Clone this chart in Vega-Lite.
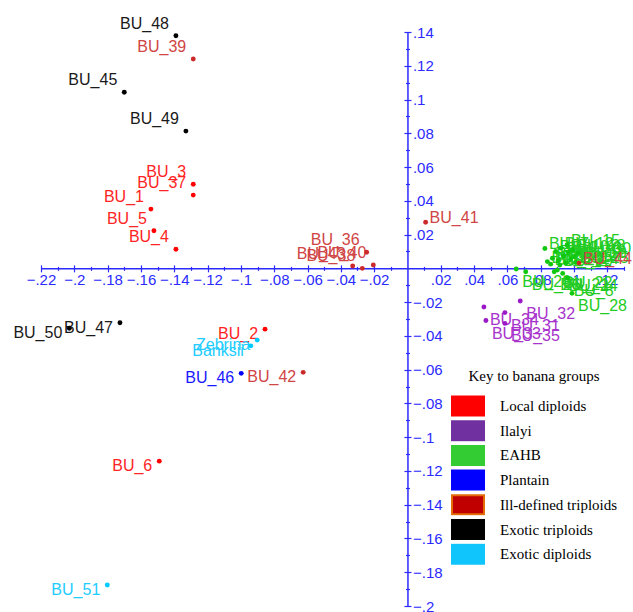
{
  "$schema": "https://vega.github.io/schema/vega-lite/v6.json",
  "width": 583,
  "height": 574,
  "autosize": {"type": "none"},
  "padding": {"left": 41, "top": 32, "right": 9, "bottom": 6},
  "config": {"view": {"stroke": null}},
  "datasets": {
    "pts": [
      {"id": "BU_1", "group": "Local diploids", "x": -0.1540, "y": 0.0351},
      {"id": "BU_2", "group": "Local diploids", "x": -0.0855, "y": -0.0360},
      {"id": "BU_3", "group": "Local diploids", "x": -0.1286, "y": 0.0498},
      {"id": "BU_4", "group": "Local diploids", "x": -0.1390, "y": 0.0113},
      {"id": "BU_5", "group": "Local diploids", "x": -0.1522, "y": 0.0223},
      {"id": "BU_6", "group": "Local diploids", "x": -0.1490, "y": -0.1142},
      {"id": "BU_37", "group": "Local diploids", "x": -0.1286, "y": 0.0434},
      {"id": "BU_31", "group": "Ilalyi", "x": 0.0585, "y": -0.0262},
      {"id": "BU_32", "group": "Ilalyi", "x": 0.0677, "y": -0.0193},
      {"id": "BU_33", "group": "Ilalyi", "x": 0.0471, "y": -0.0309},
      {"id": "BU_34", "group": "Ilalyi", "x": 0.0459, "y": -0.0229},
      {"id": "BU_35", "group": "Ilalyi", "x": 0.0585, "y": -0.0326},
      {"id": "BU_7", "group": "EAHB", "x": 0.0825, "y": 0.0118},
      {"id": "BU_8", "group": "EAHB", "x": 0.0962, "y": -0.0059},
      {"id": "BU_9", "group": "EAHB", "x": 0.0870, "y": 0.0060},
      {"id": "BU_10", "group": "EAHB", "x": 0.0890, "y": 0.0100},
      {"id": "BU_11", "group": "EAHB", "x": 0.0905, "y": 0.0045},
      {"id": "BU_12", "group": "EAHB", "x": 0.0920, "y": 0.0120},
      {"id": "BU_13", "group": "EAHB", "x": 0.0935, "y": 0.0075},
      {"id": "BU_14", "group": "EAHB", "x": 0.0950, "y": 0.0030},
      {"id": "BU_15", "group": "EAHB", "x": 0.0958, "y": 0.0138},
      {"id": "BU_16", "group": "EAHB", "x": 0.0965, "y": 0.0095},
      {"id": "BU_17", "group": "EAHB", "x": 0.0980, "y": 0.0055},
      {"id": "BU_18", "group": "EAHB", "x": 0.0990, "y": 0.0110},
      {"id": "BU_19", "group": "EAHB", "x": 0.1000, "y": 0.0070},
      {"id": "BU_20", "group": "EAHB", "x": 0.0653, "y": -0.0004},
      {"id": "BU_21", "group": "EAHB", "x": 0.0881, "y": -0.0020},
      {"id": "BU_22", "group": "EAHB", "x": 0.0900, "y": -0.0010},
      {"id": "BU_23", "group": "EAHB", "x": 0.0860, "y": 0.0025},
      {"id": "BU_24", "group": "EAHB", "x": 0.0932, "y": -0.0030},
      {"id": "BU_25", "group": "EAHB", "x": 0.1010, "y": 0.0035},
      {"id": "BU_26", "group": "EAHB", "x": 0.0710, "y": -0.0020},
      {"id": "BU_27", "group": "EAHB", "x": 0.0840, "y": 0.0040},
      {"id": "BU_28", "group": "EAHB", "x": 0.0988, "y": -0.0148},
      {"id": "BU_29", "group": "EAHB", "x": 0.0915, "y": 0.0020},
      {"id": "BU_30", "group": "EAHB", "x": 0.1025, "y": 0.0090},
      {"id": "BU_46", "group": "Plantain", "x": -0.0998, "y": -0.0622},
      {"id": "BU_36", "group": "Ill-defined triploids", "x": -0.0245, "y": 0.0095},
      {"id": "BU_38", "group": "Ill-defined triploids", "x": -0.0271, "y": 0.0},
      {"id": "BU_39", "group": "Ill-defined triploids", "x": -0.1286, "y": 0.1240},
      {"id": "BU_40", "group": "Ill-defined triploids", "x": -0.0205, "y": 0.0020},
      {"id": "BU_41", "group": "Ill-defined triploids", "x": 0.0109, "y": 0.0273},
      {"id": "BU_42", "group": "Ill-defined triploids", "x": -0.0626, "y": -0.0616},
      {"id": "BU_43", "group": "Ill-defined triploids", "x": -0.0329, "y": 0.0014},
      {"id": "BU_44", "group": "Ill-defined triploids", "x": 0.1030, "y": 0.0031},
      {"id": "BU_45", "group": "Exotic triploids", "x": -0.1700, "y": 0.1043},
      {"id": "BU_47", "group": "Exotic triploids", "x": -0.1726, "y": -0.0322},
      {"id": "BU_48", "group": "Exotic triploids", "x": -0.1390, "y": 0.1378},
      {"id": "BU_49", "group": "Exotic triploids", "x": -0.1330, "y": 0.0813},
      {"id": "BU_50", "group": "Exotic triploids", "x": -0.2030, "y": -0.0355},
      {"id": "BU_51", "group": "Exotic diploids", "x": -0.1802, "y": -0.1876},
      {"id": "Zebrina", "group": "Exotic diploids", "x": -0.0902, "y": -0.0425},
      {"id": "Banksii", "group": "Exotic diploids", "x": -0.0940, "y": -0.0459}
    ],
    "groups": [
      {"group": "Local diploids"},
      {"group": "Ilalyi"},
      {"group": "EAHB"},
      {"group": "Plantain"},
      {"group": "Ill-defined triploids"},
      {"group": "Exotic triploids"},
      {"group": "Exotic diploids"}
    ]
  },
  "layer": [
    {
      "data": {"name": "pts"},
      "transform": [{"filter": "datum.x < 0 && datum.y >= 0"}],
      "mark": {"type": "text", "align": "right", "baseline": "alphabetic", "dx": -7, "dy": -7, "font": "Liberation Sans", "fontSize": 16},
      "encoding": {
        "x": {"field": "x", "type": "quantitative", "scale": {"domain": [-0.22, 0.13], "nice": false, "zero": false},
          "axis": {"orient": "bottom", "offset": {"expr": "scale('y', 0) - height - 3.5"}, "values": [-0.22, -0.2, -0.18, -0.16, -0.14, -0.12, -0.1, -0.08, -0.06, -0.04, -0.02, 0.02, 0.04, 0.06, 0.08, 0.1, 0.12], "ticks": true, "tickSize": 7, "tickWidth": 1.2, "tickColor": "#2b2bff", "labels": false, "domain": false, "grid": false, "title": null}},
        "y": {"field": "y", "type": "quantitative", "scale": {"domain": [-0.2, 0.14], "nice": false, "zero": false},
          "axis": {"orient": "right", "offset": {"expr": "scale('x', 0) - width - 3.5"}, "values": [-0.2, -0.18, -0.16, -0.14, -0.12, -0.1, -0.08, -0.06, -0.04, -0.02, 0.02, 0.04, 0.06, 0.08, 0.1, 0.12, 0.14], "ticks": true, "tickSize": 7, "tickWidth": 1.2, "tickColor": "#2b2bff", "labels": false, "domain": false, "grid": false, "title": null}},
        "text": {"field": "id"},
        "color": {"field": "group", "type": "nominal", "legend": null,
          "scale": {"domain": ["Local diploids", "Ilalyi", "EAHB", "Plantain", "Ill-defined triploids", "Exotic triploids", "Exotic diploids"], "range": ["#ff2424", "#a833cc", "#22cc22", "#1a1aff", "#d04545", "#1a1a1a", "#22ccff"]}}
      }
    },
    {
      "data": {"name": "pts"},
      "transform": [{"filter": "datum.x < 0 && datum.y < 0"}],
      "mark": {"type": "text", "align": "right", "baseline": "alphabetic", "dx": -7, "dy": 10, "font": "Liberation Sans", "fontSize": 16},
      "encoding": {
        "x": {"field": "x", "type": "quantitative",
          "axis": {"orient": "bottom", "offset": {"expr": "scale('y', 0) - height - 2"}, "values": [-0.21, -0.19, -0.17, -0.15, -0.13, -0.11, -0.09, -0.07, -0.05, -0.03, -0.01, 0.01, 0.03, 0.05, 0.07, 0.09, 0.11, 0.13], "ticks": true, "tickSize": 4, "tickWidth": 1.2, "tickColor": "#2b2bff", "labels": false, "domain": false, "grid": false, "title": null}},
        "y": {"field": "y", "type": "quantitative",
          "axis": {"orient": "right", "offset": {"expr": "scale('x', 0) - width - 2"}, "values": [-0.19, -0.17, -0.15, -0.13, -0.11, -0.09, -0.07, -0.05, -0.03, -0.01, 0.01, 0.03, 0.05, 0.07, 0.09, 0.11, 0.13], "ticks": true, "tickSize": 4, "tickWidth": 1.2, "tickColor": "#2b2bff", "labels": false, "domain": false, "grid": false, "title": null}},
        "text": {"field": "id"},
        "color": {"field": "group", "type": "nominal", "legend": null,
          "scale": {"domain": ["Local diploids", "Ilalyi", "EAHB", "Plantain", "Ill-defined triploids", "Exotic triploids", "Exotic diploids"], "range": ["#ff2424", "#a833cc", "#22cc22", "#1a1aff", "#d04545", "#1a1a1a", "#22ccff"]}}
      }
    },
    {
      "data": {"name": "pts"},
      "transform": [{"filter": "datum.x >= 0 && datum.y >= 0"}],
      "mark": {"type": "text", "align": "left", "baseline": "alphabetic", "dx": 4, "dy": 1, "font": "Liberation Sans", "fontSize": 16},
      "encoding": {
        "x": {"field": "x", "type": "quantitative", "axis": null},
        "y": {"field": "y", "type": "quantitative", "axis": null},
        "text": {"field": "id"},
        "color": {"field": "group", "type": "nominal", "legend": null,
          "scale": {"domain": ["Local diploids", "Ilalyi", "EAHB", "Plantain", "Ill-defined triploids", "Exotic triploids", "Exotic diploids"], "range": ["#ff2424", "#a833cc", "#22cc22", "#1a1aff", "#d04545", "#1a1a1a", "#22ccff"]}}
      }
    },
    {
      "data": {"name": "pts"},
      "transform": [{"filter": "datum.x >= 0 && datum.y < 0"}],
      "mark": {"type": "text", "align": "left", "baseline": "alphabetic", "dx": 6, "dy": 18, "font": "Liberation Sans", "fontSize": 16},
      "encoding": {
        "x": {"field": "x", "type": "quantitative", "axis": null},
        "y": {"field": "y", "type": "quantitative", "axis": null},
        "text": {"field": "id"},
        "color": {"field": "group", "type": "nominal", "legend": null,
          "scale": {"domain": ["Local diploids", "Ilalyi", "EAHB", "Plantain", "Ill-defined triploids", "Exotic triploids", "Exotic diploids"], "range": ["#ff2424", "#a833cc", "#22cc22", "#1a1aff", "#d04545", "#1a1a1a", "#22ccff"]}}
      }
    },
    {
      "data": {"name": "pts"},
      "mark": {"type": "circle", "size": 24, "opacity": 1},
      "encoding": {
        "x": {"field": "x", "type": "quantitative",
          "axis": {"orient": "bottom", "offset": {"expr": "scale('y', 0) - height"}, "values": [-0.22, -0.2, -0.18, -0.16, -0.14, -0.12, -0.1, -0.08, -0.06, -0.04, -0.02, 0.02, 0.04, 0.06, 0.08, 0.1, 0.12], "ticks": false, "domain": true, "domainColor": "#2b2bff", "domainWidth": 1.5, "labelColor": "#2b2bff", "labelFont": "Liberation Sans", "labelFontSize": 15, "labelPadding": 4, "labelOverlap": false, "labelFlush": false, "labelBound": false, "labelExpr": "replace(format(datum.value, '.2~f'), '0.', '.')", "grid": false, "title": null}},
        "y": {"field": "y", "type": "quantitative",
          "axis": {"orient": "right", "offset": {"expr": "scale('x', 0) - width"}, "values": [-0.2, -0.18, -0.16, -0.14, -0.12, -0.1, -0.08, -0.06, -0.04, -0.02, 0.02, 0.04, 0.06, 0.08, 0.1, 0.12, 0.14], "ticks": false, "domain": true, "domainColor": "#2b2bff", "domainWidth": 1.5, "labelColor": "#2b2bff", "labelFont": "Liberation Sans", "labelFontSize": 15, "labelPadding": 5, "labelBaseline": "middle", "labelOverlap": false, "labelFlush": false, "labelBound": false, "labelExpr": "replace(format(datum.value, '.2~f'), '0.', '.')", "grid": false, "title": null}},
        "color": {"field": "group", "type": "nominal", "legend": null,
          "scale": {"domain": ["Local diploids", "Ilalyi", "EAHB", "Plantain", "Ill-defined triploids", "Exotic triploids", "Exotic diploids"], "range": ["#ff0000", "#9b19c9", "#11c811", "#0000ff", "#cc2a2a", "#000000", "#00ccff"]}}
      }
    },
    {
      "data": {"name": "groups"},
      "mark": {"type": "point", "filled": true, "opacity": 0, "shape": "M-1,-0.95H2.2V0.95H-1Z", "size": 400, "strokeWidth": 2},
      "encoding": {
        "color": {"field": "group", "type": "nominal",
          "scale": {"domain": ["Local diploids", "Ilalyi", "EAHB", "Plantain", "Ill-defined triploids", "Exotic triploids", "Exotic diploids"], "range": ["#ff0000", "#7030a0", "#33cc33", "#0000ff", "#c00000", "#000000", "#10c4fc"]},
          "legend": {"orient": "none", "legendX": 410, "legendY": 337, "padding": 0, "title": "Key to banana groups", "titleAnchor": "middle", "titleFont": "Liberation Serif", "titleFontSize": 15, "titleFontWeight": "normal", "titleColor": "#000000", "titlePadding": 11, "labelFont": "Liberation Serif", "labelFontSize": 15, "labelColor": "#000000", "labelOffset": 27, "rowPadding": 2.7, "clipHeight": 22, "symbolType": "M-1,-0.95H2.2V0.95H-1Z", "symbolSize": 400, "symbolStrokeWidth": 2, "symbolOpacity": 1}},
        "stroke": {"field": "group", "type": "nominal",
          "scale": {"domain": ["Local diploids", "Ilalyi", "EAHB", "Plantain", "Ill-defined triploids", "Exotic triploids", "Exotic diploids"], "range": ["#ff0000", "#7030a0", "#33cc33", "#0000ff", "#e46c0a", "#000000", "#10c4fc"]},
          "legend": {"orient": "none", "legendX": 410, "legendY": 337, "padding": 0, "title": "Key to banana groups", "titleAnchor": "middle", "titleFont": "Liberation Serif", "titleFontSize": 15, "titleFontWeight": "normal", "titleColor": "#000000", "titlePadding": 11, "labelFont": "Liberation Serif", "labelFontSize": 15, "labelColor": "#000000", "labelOffset": 27, "rowPadding": 2.7, "clipHeight": 22, "symbolType": "M-1,-0.95H2.2V0.95H-1Z", "symbolSize": 400, "symbolStrokeWidth": 2, "symbolOpacity": 1}}
      }
    }
  ],
  "resolve": {
    "axis": {"x": "independent", "y": "independent"},
    "scale": {"color": "independent", "stroke": "independent"}
  }
}
